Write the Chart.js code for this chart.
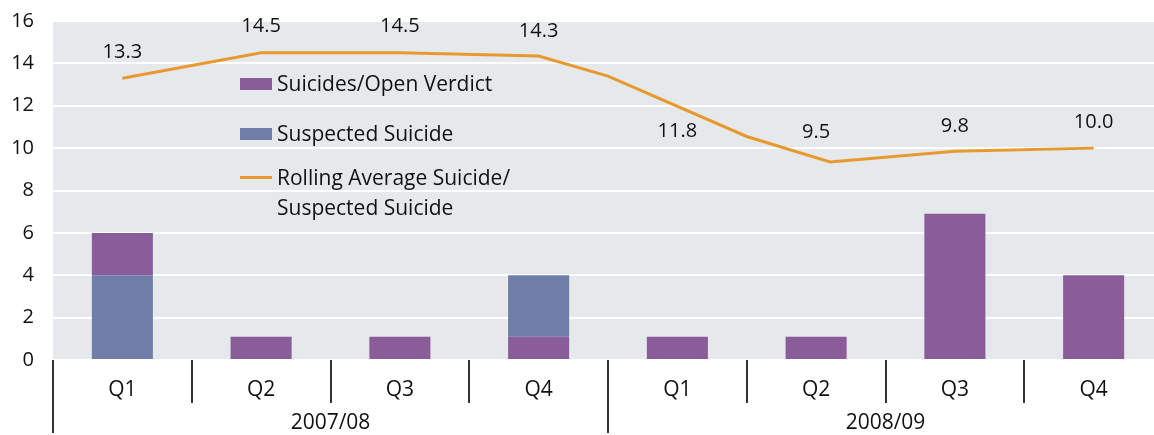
<!DOCTYPE html>
<html>
<head>
<meta charset="utf-8">
<script src="https://cdn.jsdelivr.net/npm/chart.js"></script>
<style>
  html, body { margin: 0; padding: 0; background: #fff; overflow: hidden; }
  #wrap { position: absolute; left: 0; top: -10px; width: 1163px; height: 445px; }
  .leg { position: absolute; font-family: "Open Sans", sans-serif; font-size: 21px; color: #111; line-height: 30px; white-space: nowrap; }
  .sw { position: absolute; left: 0; width: 32px; }
  .txt { position: absolute; left: 37px; }
</style>
</head>
<body>
<div id="wrap">
  <canvas id="chart"></canvas>
</div>
<div class="leg" style="left:240px; top:68px;">
  <div class="sw" style="top:10px; height:12px; background:#8a5d9a;"></div>
  <div class="txt" style="top:0;">Suicides/Open Verdict</div>
</div>
<div class="leg" style="left:240px; top:118px;">
  <div class="sw" style="top:10px; height:12px; background:#6e7ea8;"></div>
  <div class="txt" style="top:0;">Suspected Suicide</div>
</div>
<div class="leg" style="left:240px; top:162px;">
  <div class="sw" style="top:14px; height:3px; background:#e8992e;"></div>
  <div class="txt" style="top:0;">Rolling Average Suicide/<br>Suspected Suicide</div>
</div>
<script>
// quarters and financial years
const quarters = ['Q1', 'Q2', 'Q3', 'Q4', 'Q1', 'Q2', 'Q3', 'Q4'];
const years = ['2007/08', '2008/09'];

// bar values per quarter
const openVerdict = [2, 1.1, 1.1, 1.1, 1.1, 1.1, 6.9, 4];
const suspected = [4, 0, 0, 2.9, 0, 0, 0, 0];
// in which quarters the open verdict block sits above the suspected block
const openVerdictOnTop = [true, false, false, false, false, false, false, false];

// rolling average line (x = quarter index as drawn)
const rollingX = [0, 1, 2, 3, 3.5, 4.5, 5.1, 6, 7];
const rollingAvg = [13.3, 14.5, 14.5, 14.35, 13.4, 10.55, 9.35, 9.85, 10.0];

// printed rolling average labels, one per quarter
const avgLabels = [13.3, 14.5, 14.5, 14.3, 11.8, 9.5, 9.8, 10.0];

const FONT = '"Open Sans", sans-serif';
const PURPLE = '#8a5d9a';
const BLUE = '#6e7ea8';
const ORANGE = '#e8992e';

// grey plot background
const bgPlugin = {
  id: 'plotBg',
  beforeDraw(chart) {
    const a = chart.chartArea, ctx = chart.ctx;
    ctx.save();
    ctx.fillStyle = '#e6e9ec';
    ctx.fillRect(a.left, a.top, a.right - a.left, a.bottom - a.top);
    ctx.restore();
  }
};

// two level category axis drawn under the plot
const groupAxis = {
  id: 'groupAxis',
  afterDraw(chart) {
    const a = chart.chartArea, ctx = chart.ctx, xs = chart.scales.x;
    const w = (a.right - a.left) / quarters.length;
    ctx.save();
    ctx.strokeStyle = '#333';
    ctx.lineWidth = 2;
    for (let i = 0; i <= quarters.length; i++) {
      const px = Math.round(a.left + i * w);
      const len = (i % 4 === 0) ? 73 : 43;
      ctx.beginPath();
      ctx.moveTo(px, a.bottom);
      ctx.lineTo(px, a.bottom + len);
      ctx.stroke();
    }
    ctx.fillStyle = '#111';
    ctx.font = '21px ' + FONT;
    ctx.textAlign = 'center';
    ctx.textBaseline = 'middle';
    quarters.forEach((q, i) => ctx.fillText(q, xs.getPixelForValue(i), a.bottom + 30));
    years.forEach((y, g) => {
      const cx = a.left + (g * 4 + 2) * w;
      ctx.fillText(y, cx, a.bottom + 63);
    });
    ctx.restore();
  }
};

// value labels for the rolling average
const avgLabelPlugin = {
  id: 'avgLabels',
  afterDatasetsDraw(chart, args, opts) {
    const ctx = chart.ctx, xs = chart.scales.x, ys = chart.scales.y;
    ctx.save();
    ctx.fillStyle = '#111';
    ctx.font = '20px ' + FONT;
    ctx.textAlign = 'center';
    ctx.textBaseline = 'middle';
    avgLabels.forEach((v, i) => {
      const below = opts.below[i];
      const y = ys.getPixelForValue(v) + (below ? 21 : -26);
      ctx.fillText(v.toFixed(1), xs.getPixelForValue(i), y);
    });
    ctx.restore();
  }
};

const barStyle = { barPercentage: 0.44, categoryPercentage: 1, grouped: false, order: 1 };

const ctx = document.getElementById('chart').getContext('2d');
new Chart(ctx, {
  type: 'bar',
  data: {
    labels: quarters,
    datasets: [
      Object.assign({
        label: 'Suicides/Open Verdict',
        data: openVerdict.map((v, i) => openVerdictOnTop[i] ? 0 : v),
        backgroundColor: PURPLE
      }, barStyle),
      Object.assign({
        label: 'Suspected Suicide',
        data: suspected,
        backgroundColor: BLUE
      }, barStyle),
      Object.assign({
        label: 'Suicides/Open Verdict (top)',
        data: openVerdict.map((v, i) => openVerdictOnTop[i] ? v : 0),
        backgroundColor: PURPLE
      }, barStyle),
      {
        type: 'line',
        label: 'Rolling Average Suicide/Suspected Suicide',
        data: rollingX.map((x, i) => ({ x: x, y: rollingAvg[i] })),
        xAxisID: 'xl',
        stack: 'line',
        borderColor: ORANGE,
        borderWidth: 3,
        pointRadius: 0,
        tension: 0,
        fill: false,
        order: 0
      }
    ]
  },
  options: {
    responsive: true,
    maintainAspectRatio: false,
    animation: false,
    layout: { padding: { top: 10, bottom: 75, left: 0, right: 0 } },
    plugins: {
      legend: { display: false },
      tooltip: { enabled: false },
      avgLabels: { below: [false, false, false, false, true, false, false, false] }
    },
    scales: {
      x: { display: false, stacked: true },
      xl: { type: 'linear', display: false, offset: false, min: -0.5, max: 7.5 },
      y: {
        stacked: true,
        min: 0,
        max: 16,
        ticks: { stepSize: 2, padding: 19, color: '#111', font: { family: FONT, size: 20 } },
        grid: { color: '#ffffff', lineWidth: 2, drawTicks: false },
        border: { display: false },
        afterFit(scale) { scale.width = 53; }
      }
    }
  },
  plugins: [bgPlugin, groupAxis, avgLabelPlugin]
});
</script>
</body>
</html>
